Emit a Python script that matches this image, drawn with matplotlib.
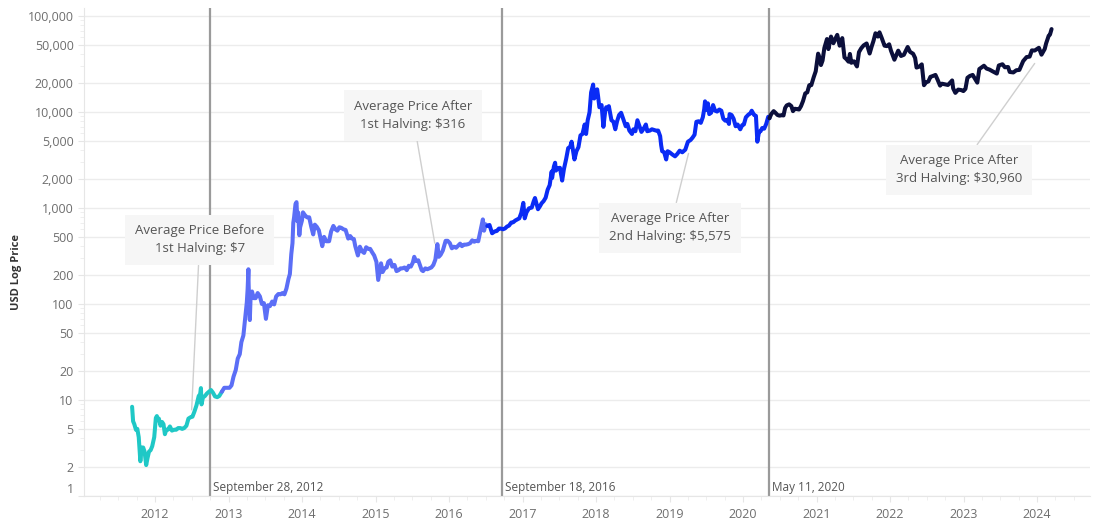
import pandas as pd
import matplotlib.pyplot as plt
import matplotlib.dates as mdates
import matplotlib.ticker as mticker
from matplotlib.transforms import ScaledTranslation, blended_transform_factory

plt.rcParams["font.family"] = ["Open Sans", "DejaVu Sans"]

dates_pre = ["2011-09-09", "2011-09-14", "2011-09-20", "2011-09-28", "2011-10-05", "2011-10-12",
             "2011-10-20", "2011-10-27", "2011-11-03", "2011-11-10", "2011-11-18", "2011-11-25",
             "2011-12-02", "2011-12-10", "2011-12-18", "2011-12-28", "2012-01-05", "2012-01-10",
             "2012-01-15", "2012-01-20", "2012-01-28", "2012-02-05", "2012-02-12", "2012-02-19",
             "2012-02-26", "2012-03-05", "2012-03-15", "2012-03-25", "2012-04-05", "2012-04-15",
             "2012-04-25", "2012-05-05", "2012-05-15", "2012-05-25", "2012-06-05", "2012-06-15",
             "2012-06-25", "2012-07-05", "2012-07-15", "2012-07-25", "2012-08-05", "2012-08-12",
             "2012-08-16", "2012-08-19", "2012-08-26", "2012-09-05", "2012-09-15", "2012-09-25",
             "2012-10-05", "2012-10-15", "2012-10-25", "2012-11-05", "2012-11-15", "2012-11-28"]
prices_pre = [8.5, 6.0, 5.6, 4.9, 5.0, 4.1, 2.3, 3.2, 3.2, 2.9, 2.1, 2.5, 2.9, 3.0, 3.3, 4.1,
              6.5, 6.8, 6.3, 6.4, 5.4, 5.9, 5.6, 4.4, 4.9, 4.9, 5.3, 4.8, 4.9, 4.9, 5.1, 5.1,
              5.0, 5.1, 5.4, 6.4, 6.6, 6.7, 7.6, 8.8, 11.0, 11.5, 13.3, 9.0, 10.6, 11.0, 11.7,
              12.2, 12.7, 11.9, 10.9, 10.7, 11.0, 12.2]

dates_h1 = ["2012-11-28", "2012-12-10", "2012-12-25", "2013-01-05", "2013-01-15", "2013-01-25",
            "2013-02-05", "2013-02-15", "2013-02-25", "2013-03-05", "2013-03-15", "2013-03-25",
            "2013-04-01", "2013-04-05", "2013-04-09", "2013-04-10", "2013-04-12", "2013-04-16",
            "2013-04-20", "2013-04-27", "2013-05-05", "2013-05-15", "2013-05-25", "2013-06-05",
            "2013-06-15", "2013-06-25", "2013-07-05", "2013-07-15", "2013-07-25", "2013-08-05",
            "2013-08-15", "2013-08-25", "2013-09-05", "2013-09-15", "2013-09-25", "2013-10-05",
            "2013-10-15", "2013-10-25", "2013-11-01", "2013-11-08", "2013-11-14", "2013-11-18",
            "2013-11-22", "2013-11-29", "2013-12-04", "2013-12-08", "2013-12-12", "2013-12-18",
            "2013-12-22", "2013-12-31", "2014-01-05", "2014-01-15", "2014-01-25", "2014-02-05",
            "2014-02-15", "2014-02-25", "2014-03-05", "2014-03-15", "2014-03-25", "2014-04-05",
            "2014-04-11", "2014-04-20", "2014-05-01", "2014-05-15", "2014-05-25", "2014-06-05",
            "2014-06-15", "2014-06-25", "2014-07-05", "2014-07-15", "2014-07-25", "2014-08-05",
            "2014-08-18", "2014-08-28", "2014-09-05", "2014-09-15", "2014-09-22", "2014-10-05",
            "2014-10-15", "2014-10-25", "2014-11-05", "2014-11-15", "2014-11-25", "2014-12-05",
            "2014-12-15", "2014-12-25", "2015-01-05", "2015-01-14", "2015-01-20", "2015-01-28",
            "2015-02-05", "2015-02-15", "2015-02-25", "2015-03-05", "2015-03-15", "2015-03-25",
            "2015-04-05", "2015-04-15", "2015-04-25", "2015-05-05", "2015-05-15", "2015-05-25",
            "2015-06-05", "2015-06-15", "2015-06-25", "2015-07-05", "2015-07-12", "2015-07-20",
            "2015-08-01", "2015-08-18", "2015-08-25", "2015-09-05", "2015-09-15", "2015-09-25",
            "2015-10-05", "2015-10-15", "2015-10-25", "2015-11-04", "2015-11-11", "2015-11-20",
            "2015-12-01", "2015-12-15", "2015-12-25", "2016-01-05", "2016-01-15", "2016-01-25",
            "2016-02-05", "2016-02-15", "2016-02-25", "2016-03-05", "2016-03-15", "2016-03-25",
            "2016-04-05", "2016-04-15", "2016-04-25", "2016-05-05", "2016-05-15", "2016-05-25",
            "2016-06-05", "2016-06-12", "2016-06-17", "2016-06-23", "2016-07-01", "2016-07-09"]
prices_h1 = [12.2, 13.4, 13.4, 13.4, 14.2, 17.5, 20.5, 27, 30, 40, 47, 75, 104, 142, 230, 165,
             117, 68, 120, 135, 115, 115, 130, 120, 100, 102, 70, 97, 95, 106, 99, 120, 127,
             126, 130, 126, 145, 182, 205, 330, 430, 700, 800, 1100, 1150, 730, 900, 520, 630,
             740, 900, 840, 800, 800, 640, 530, 670, 635, 585, 460, 400, 500, 450, 450, 570,
             650, 600, 580, 630, 620, 600, 590, 480, 510, 480, 475, 400, 320, 395, 355, 340,
             390, 375, 375, 345, 320, 275, 178, 210, 265, 215, 235, 240, 275, 285, 245, 255,
             220, 225, 235, 235, 240, 225, 250, 245, 270, 310, 280, 285, 225, 220, 235, 230,
             235, 240, 255, 290, 420, 310, 325, 360, 455, 455, 430, 380, 395, 385, 405, 425,
             400, 415, 415, 420, 430, 460, 445, 455, 450, 575, 680, 760, 580, 675, 650]

dates_h2 = ["2016-07-09", "2016-07-20", "2016-08-02", "2016-08-15", "2016-08-25", "2016-09-05",
            "2016-09-15", "2016-09-25", "2016-10-05", "2016-10-15", "2016-10-25", "2016-11-05",
            "2016-11-15", "2016-11-25", "2016-12-05", "2016-12-15", "2016-12-25", "2017-01-04",
            "2017-01-11", "2017-01-20", "2017-02-01", "2017-02-15", "2017-02-25", "2017-03-03",
            "2017-03-18", "2017-03-28", "2017-04-05", "2017-04-15", "2017-04-25", "2017-05-05",
            "2017-05-15", "2017-05-25", "2017-05-27", "2017-06-05", "2017-06-11", "2017-06-15",
            "2017-06-25", "2017-07-05", "2017-07-16", "2017-07-25", "2017-08-05", "2017-08-15",
            "2017-08-25", "2017-09-01", "2017-09-15", "2017-09-25", "2017-10-05", "2017-10-15",
            "2017-10-25", "2017-11-05", "2017-11-12", "2017-11-20", "2017-11-29", "2017-12-07",
            "2017-12-17", "2017-12-22", "2017-12-28", "2018-01-06", "2018-01-10", "2018-01-17",
            "2018-01-28", "2018-02-06", "2018-02-15", "2018-02-20", "2018-03-01", "2018-03-05",
            "2018-03-18", "2018-03-28", "2018-04-06", "2018-04-15", "2018-04-25", "2018-05-05",
            "2018-05-15", "2018-05-28", "2018-06-05", "2018-06-15", "2018-06-28", "2018-07-05",
            "2018-07-15", "2018-07-25", "2018-08-05", "2018-08-14", "2018-08-25", "2018-09-05",
            "2018-09-12", "2018-09-25", "2018-10-05", "2018-10-15", "2018-10-25", "2018-11-05",
            "2018-11-15", "2018-11-20", "2018-11-25", "2018-12-05", "2018-12-15", "2018-12-22",
            "2019-01-01", "2019-01-15", "2019-01-28", "2019-02-08", "2019-02-20", "2019-03-05",
            "2019-03-20", "2019-04-02", "2019-04-15", "2019-04-25", "2019-05-05", "2019-05-14",
            "2019-05-25", "2019-06-05", "2019-06-15", "2019-06-22", "2019-06-26", "2019-07-02",
            "2019-07-10", "2019-07-17", "2019-07-26", "2019-08-05", "2019-08-15", "2019-08-25",
            "2019-09-05", "2019-09-15", "2019-09-25", "2019-10-05", "2019-10-15", "2019-10-23",
            "2019-10-26", "2019-11-05", "2019-11-15", "2019-11-25", "2019-12-05", "2019-12-18",
            "2019-12-28", "2020-01-05", "2020-01-15", "2020-01-28", "2020-02-05", "2020-02-13",
            "2020-02-25", "2020-03-05", "2020-03-12", "2020-03-20", "2020-03-28", "2020-04-05",
            "2020-04-15", "2020-04-25", "2020-05-05", "2020-05-11"]
prices_h2 = [650, 665, 545, 570, 575, 610, 610, 600, 612, 640, 655, 705, 710, 740, 760, 780,
             890, 1130, 780, 900, 990, 1010, 1180, 1270, 970, 1045, 1120, 1180, 1280, 1550,
             1730, 2400, 2050, 2700, 2960, 2450, 2600, 2620, 1930, 2550, 3250, 4200, 4350,
             4900, 3200, 3900, 4300, 5700, 5900, 7400, 5900, 8200, 9900, 16000, 19300, 13800,
             14600, 17200, 14900, 11200, 11800, 7000, 10200, 11200, 10900, 11500, 8200, 7900,
             6600, 8000, 9300, 9800, 8500, 7100, 7500, 6400, 5900, 6600, 6300, 8200, 7000,
             6200, 6700, 7400, 6300, 6400, 6600, 6500, 6400, 6400, 5600, 4500, 3900, 3800,
             3200, 3900, 3800, 3600, 3450, 3650, 3950, 3800, 4050, 4900, 5100, 5400, 5800,
             7900, 8000, 7700, 8800, 10700, 12900, 10500, 12300, 9500, 9800, 11800, 10300,
             10100, 10600, 10300, 8500, 8100, 8300, 7500, 9500, 9300, 8500, 7100, 7400, 6600,
             7300, 7400, 8800, 9400, 9600, 10300, 9300, 9100, 4900, 6200, 6300, 6800, 6700,
             7500, 8900, 8600]

dates_h3 = ["2020-05-11", "2020-05-20", "2020-06-01", "2020-06-10", "2020-06-20", "2020-06-30",
            "2020-07-10", "2020-07-20", "2020-07-28", "2020-08-05", "2020-08-17", "2020-08-28",
            "2020-09-05", "2020-09-15", "2020-09-25", "2020-10-05", "2020-10-15", "2020-10-25",
            "2020-11-05", "2020-11-15", "2020-11-25", "2020-12-05", "2020-12-17", "2020-12-27",
            "2021-01-08", "2021-01-15", "2021-01-22", "2021-01-30", "2021-02-08", "2021-02-21",
            "2021-02-28", "2021-03-13", "2021-03-25", "2021-04-05", "2021-04-13", "2021-04-25",
            "2021-05-08", "2021-05-19", "2021-05-28", "2021-06-08", "2021-06-15", "2021-06-22",
            "2021-07-05", "2021-07-20", "2021-07-30", "2021-08-10", "2021-08-22", "2021-09-06",
            "2021-09-21", "2021-10-01", "2021-10-10", "2021-10-20", "2021-11-01", "2021-11-09",
            "2021-11-20", "2021-12-04", "2021-12-15", "2021-12-27", "2022-01-05", "2022-01-22",
            "2022-02-10", "2022-02-24", "2022-03-10", "2022-03-29", "2022-04-10", "2022-04-25",
            "2022-05-05", "2022-05-12", "2022-05-25", "2022-06-07", "2022-06-18", "2022-06-28",
            "2022-07-10", "2022-07-20", "2022-07-30", "2022-08-14", "2022-08-25", "2022-09-06",
            "2022-09-15", "2022-09-30", "2022-10-15", "2022-10-30", "2022-11-05", "2022-11-10",
            "2022-11-21", "2022-12-05", "2022-12-20", "2022-12-31", "2023-01-10", "2023-01-20",
            "2023-02-01", "2023-02-15", "2023-03-10", "2023-03-20", "2023-04-12", "2023-04-25",
            "2023-05-10", "2023-05-25", "2023-06-15", "2023-06-25", "2023-07-13", "2023-07-25",
            "2023-08-10", "2023-08-18", "2023-09-05", "2023-09-20", "2023-10-05", "2023-10-24",
            "2023-11-10", "2023-11-25", "2023-12-06", "2023-12-20", "2024-01-10", "2024-01-23",
            "2024-02-08", "2024-02-15", "2024-02-28", "2024-03-05", "2024-03-13"]
prices_h3 = [8600, 9500, 10200, 9800, 9300, 9150, 9250, 9200, 11000, 11700, 12000, 11500,
             10200, 10800, 10700, 10600, 11500, 13000, 15600, 16000, 19000, 19000, 23000,
             26500, 40500, 36800, 30800, 34300, 46400, 57500, 45200, 61000, 52000, 58700,
             63500, 49000, 58800, 37000, 35600, 33400, 40200, 32500, 33700, 29800, 42000,
             46000, 49300, 51700, 40600, 48000, 54900, 66000, 61000, 67500, 59000, 49000,
             48500, 50700, 43500, 35000, 43500, 38300, 39400, 47500, 42200, 40400, 36500,
             29000, 29600, 31300, 19000, 20300, 20800, 23200, 23600, 24300, 21600, 18800,
             19700, 19400, 19100, 20600, 21300, 17600, 15800, 17100, 16900, 16500, 17400,
             22700, 23700, 24300, 20200, 28000, 30300, 28300, 27600, 26500, 25100, 30500,
             31400, 29200, 29400, 26100, 25800, 27200, 27400, 33900, 37300, 37700, 43800,
             43600, 46600, 39500, 45300, 51800, 62400, 63800, 73000]

era_colors = ["#1fc8c6", "#5b6ef6", "#0a2bf5", "#0b0f3b"]

halving_dates = ["2012-09-28", "2016-09-18", "2020-05-11"]
halving_labels = ["September 28, 2012", "September 18, 2016", "May 11, 2020"]

note_texts = ["Average Price Before\n1st Halving: $7",
              "Average Price After\n1st Halving: $316",
              "Average Price After\n2nd Halving: $5,575",
              "Average Price After\n3rd Halving: $30,960"]
note_box_at = [("2012-08-10", 464), ("2015-07-05", 9100), ("2019-01-03", 620), ("2022-12-10", 2490)]
note_point_at = [("2012-07-01", 7.9), ("2015-10-22", 430), ("2019-04-05", 3700), ("2023-12-20", 32000)]

y_ticks = [1, 2, 5, 10, 20, 50, 100, 200, 500, 1000, 2000, 5000, 10000, 20000, 50000, 100000]

fig = plt.figure(figsize=(10.94, 5.23), dpi=100)
ax = fig.add_axes([84 / 1094, 27 / 523, 1006 / 1094, 488 / 523])

eras = [(dates_pre, prices_pre), (dates_h1, prices_h1), (dates_h2, prices_h2), (dates_h3, prices_h3)]
for (d, p), c in zip(eras, era_colors):
    ax.plot(pd.to_datetime(d), p, color=c, lw=2.9, solid_joinstyle="round",
            solid_capstyle="round", zorder=3)

ax.set_yscale("log")
ax.set_ylim(1, 121000)
ax.set_xlim(pd.Timestamp("2011-01-13"), pd.Timestamp("2024-09-20"))

ax.set_yticks(y_ticks)
ax.yaxis.set_major_formatter(mticker.FuncFormatter(lambda v, _: f"{v:,.0f}"))
ax.yaxis.set_minor_locator(mticker.LogLocator(base=10, subs=[3, 4, 6, 7, 8, 9]))
ax.yaxis.set_minor_formatter(mticker.NullFormatter())
ax.xaxis.set_major_locator(mdates.YearLocator())
ax.xaxis.set_major_formatter(mdates.DateFormatter("%Y"))
ax.xaxis.set_minor_locator(mdates.MonthLocator(bymonth=[4, 7, 10]))

ax.tick_params(axis="both", which="major", labelsize=9, labelcolor="#6e6e6e", color="#e6e6e6",
               length=4)
ax.tick_params(axis="both", which="minor", color="#ececec", length=3)
ax.tick_params(axis="x", pad=5)

# the "1" label sits a bit above its grid line
for lab in ax.get_yticklabels():
    if lab.get_text() == "1":
        lab.set_transform(lab.get_transform() + ScaledTranslation(0, 8 / 100, fig.dpi_scale_trans))

ax.grid(axis="y", which="major", color="#ececec", lw=1)
for s in ["top", "right"]:
    ax.spines[s].set_visible(False)
ax.spines["left"].set_color("#e6e6e6")
ax.spines["bottom"].set_color("#e6e6e6")

ax.set_ylabel("USD Log Price", fontsize=8, fontweight="bold", color="#333333")
ax.yaxis.set_label_coords(-0.062, 0.46)

trans = blended_transform_factory(ax.transData, ax.transAxes)
for d, lab in zip(halving_dates, halving_labels):
    ax.axvline(pd.Timestamp(d), color="#9a9a9a", lw=1.6, zorder=2)
    ax.text(pd.Timestamp(d), 0.018, " " + lab, transform=trans, fontsize=8.5,
            color="#555555", ha="left", va="center")

for txt, (bd, bv), (pd_, pv) in zip(note_texts, note_box_at, note_point_at):
    ax.annotate(txt, xy=(pd.Timestamp(pd_), pv), xytext=(pd.Timestamp(bd), bv),
                ha="center", va="center", fontsize=9.5, color="#555555", linespacing=1.5,
                bbox=dict(boxstyle="square,pad=0.75", fc="#f6f6f6", ec="none"),
                arrowprops=dict(arrowstyle="-", color="#cfcfcf", lw=1, shrinkA=0, shrinkB=0),
                zorder=4)

fig.savefig("out.png", dpi=100)
